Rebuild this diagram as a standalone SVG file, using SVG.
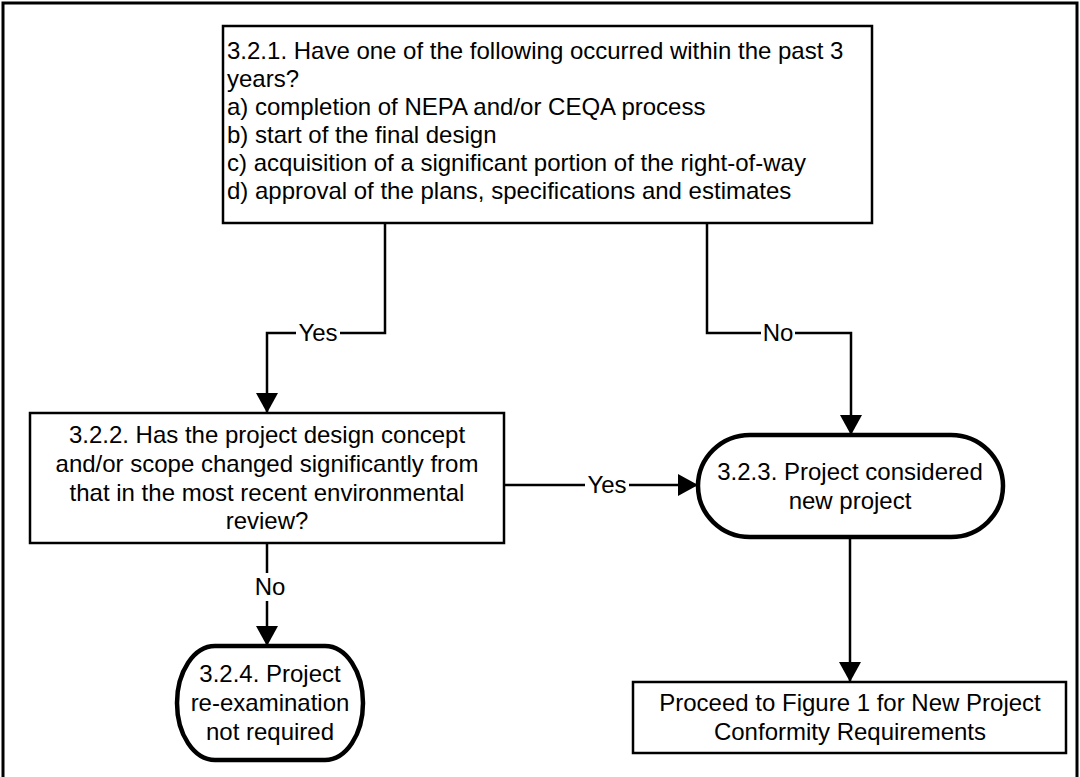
<svg xmlns="http://www.w3.org/2000/svg" width="1080" height="777" viewBox="0 0 1080 777">
<defs>
<style>
text{font-family:"Liberation Sans",Arial,sans-serif;font-size:24px;fill:#000}
.c{text-anchor:middle}
.box{fill:#fff;stroke:#000;stroke-width:2.5}
.term{fill:#fff;stroke:#000;stroke-width:4.5}
.ln{fill:none;stroke:#000;stroke-width:2.5}
.lbg{fill:#fff;stroke:none}
</style>
<marker id="ah" markerUnits="userSpaceOnUse" markerWidth="22" markerHeight="22" refX="20" refY="11" orient="auto">
<path d="M0,0 L20,11 L0,22 z" fill="#000"/>
</marker>
</defs>
<rect x="0" y="0" width="1080" height="777" fill="#fff"/>
<rect x="3" y="3" width="1074" height="800" fill="none" stroke="#000" stroke-width="3"/>
<g id="connectors">
<path class="ln" d="M385,223 V333 H267 V413" marker-end="url(#ah)"/>
<rect class="lbg" x="296" y="320" width="44" height="26"/>
<text class="c" x="318" y="341">Yes</text>
<path class="ln" d="M707,223 V333 H851 V435" marker-end="url(#ah)"/>
<rect class="lbg" x="761" y="320" width="34" height="26"/>
<text class="c" x="778" y="341">No</text>
<path class="ln" d="M504,485 H698" marker-end="url(#ah)"/>
<rect class="lbg" x="585" y="472" width="44" height="26"/>
<text class="c" x="607" y="493">Yes</text>
<path class="ln" d="M267,543 V646" marker-end="url(#ah)"/>
<rect class="lbg" x="253" y="573" width="34" height="28"/>
<text class="c" x="270" y="595">No</text>
<path class="ln" d="M850,537 V682" marker-end="url(#ah)"/>
</g>
<g id="n321">
<rect class="box" x="223" y="26" width="649" height="197"/>
<text x="227" y="59">3.2.1. Have one of the following occurred within the past 3</text>
<text x="227" y="87">years?</text>
<text x="227" y="115">a) completion of NEPA and/or CEQA process</text>
<text x="227" y="143">b) start of the final design</text>
<text x="227" y="171">c) acquisition of a significant portion of the right-of-way</text>
<text x="227" y="199">d) approval of the plans, specifications and estimates</text>
</g>
<g id="n322">
<rect class="box" x="30" y="413" width="474" height="130"/>
<text class="c" x="267" y="443">3.2.2. Has the project design concept</text>
<text class="c" x="267" y="472">and/or scope changed significantly from</text>
<text class="c" x="267" y="501">that in the most recent environmental</text>
<text class="c" x="267" y="529">review?</text>
</g>
<g id="n323">
<rect class="term" x="698" y="435" width="305" height="102" rx="52" ry="51"/>
<text class="c" x="850" y="480">3.2.3. Project considered</text>
<text class="c" x="850" y="509">new project</text>
</g>
<g id="n324">
<rect class="term" x="177" y="646" width="186" height="114" rx="38" ry="57"/>
<text class="c" x="270" y="682">3.2.4. Project</text>
<text class="c" x="270" y="711">re-examination</text>
<text class="c" x="270" y="740">not required</text>
</g>
<g id="nproceed">
<rect class="box" x="633" y="682" width="433" height="71"/>
<text class="c" x="850" y="711">Proceed to Figure 1 for New Project</text>
<text class="c" x="850" y="740">Conformity Requirements</text>
</g>
</svg>
